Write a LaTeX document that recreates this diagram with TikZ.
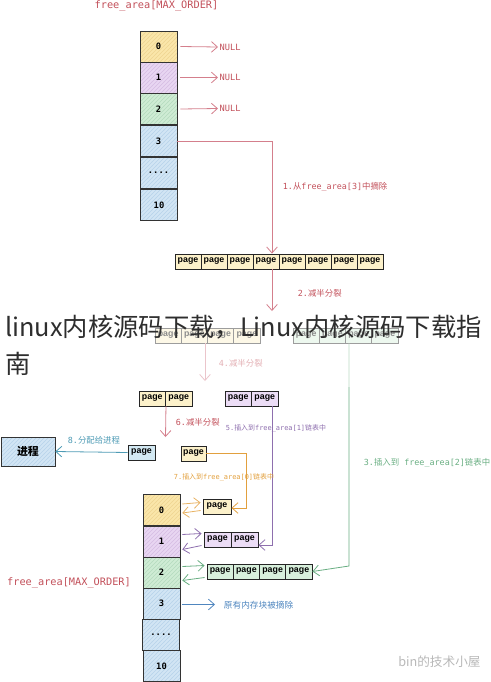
\documentclass[tikz,border=0pt]{standalone}
\usepackage{fontspec}
\setmainfont{Liberation Sans}
\setmonofont{DejaVu Sans Mono}
\newfontfamily\cjk{Noto Sans CJK SC}
\usetikzlibrary{arrows.meta,patterns,calc}
\newlength\pu \setlength\pu{0.75pt}
\newcommand\zh[1]{{\cjk #1}}
\definecolor{cRed}{HTML}{C2505A}
\definecolor{cRedL}{HTML}{D47F8C}
\definecolor{cYel}{HTML}{FAE6AA}
\definecolor{cYelH}{HTML}{EED491}
\definecolor{cPur}{HTML}{E8D6F2}
\definecolor{cPurH}{HTML}{D5BCE3}
\definecolor{cGrn}{HTML}{CFECD4}
\definecolor{cGrnH}{HTML}{B4DABD}
\definecolor{cBlu}{HTML}{D2E5F4}
\definecolor{cBluH}{HTML}{B6D2EA}
\definecolor{pgY}{HTML}{FCF1CA}
\definecolor{pgP}{HTML}{ECDDF6}
\definecolor{pgG}{HTML}{D8F0DC}
\definecolor{pgB}{HTML}{D3E9F3}
\definecolor{cPurL}{HTML}{8E6FAE}
\definecolor{cOra}{HTML}{E2A03E}
\definecolor{cGrnL}{HTML}{69AE82}
\definecolor{cTeal}{HTML}{4E9BB5}
\definecolor{cBlue}{HTML}{4F86BF}
\tikzset{
  slot/.style={inner sep=0pt,
    minimum width=37\pu, minimum height=31\pu,
    font=\ttfamily\bfseries\fontsize{6.6}{7}\selectfont},
  hatch/.style={postaction={pattern=north east lines, pattern color=#1},
    postaction={draw=black!80, line width=0.6pt}},
  pg/.style={draw=black!85, line width=0.7pt, inner sep=0pt,
    minimum height=15\pu, font=\bfseries\fontsize{6.6}{7}\selectfont},
  arr/.style={-{Straight Barb[length=4.5pt,width=8pt]}, line width=0.6pt},
  lab/.style={inner sep=0.5pt, anchor=west, font=\ttfamily\fontsize{6.3}{7}\selectfont},
  slab/.style={inner sep=0.5pt, anchor=west, font=\ttfamily\fontsize{5.2}{6}\selectfont},
  ttl/.style={inner sep=0pt, text=cRed, font=\ttfamily\fontsize{7.7}{8}\selectfont},
  nul/.style={inner sep=1pt, anchor=west, text=cRed, font=\ttfamily\fontsize{6.5}{7}\selectfont}
}
\begin{document}
\begin{tikzpicture}[x=\pu,y=-\pu]
\useasboundingbox (0,0) rectangle (490,682);
% ---------- top array ----------
\node[ttl] (t1) at (156.5,6) {free\_area[MAX\_ORDER]};
\node[slot, fill=cYel, hatch=cYelH] (a0) at (158.5,46.5) {0};
\node[slot, fill=cPur, hatch=cPurH] (a1) at (158.5,77.5) {1};
\node[slot, fill=cGrn, hatch=cGrnH] (a2) at (158.5,109) {2};
\node[slot, fill=cBlu, hatch=cBluH] (a3) at (158.5,141) {3};
\node[slot, fill=cBlu, hatch=cBluH] (a4) at (158.5,172.5) {....};
\node[slot, fill=cBlu, hatch=cBluH] (a5) at (159,205) {10};
\node[nul] (n0) at (218,47) {NULL};
\node[nul] (n1) at (218,77.5) {NULL};
\node[nul] (n2) at (218,108.5) {NULL};
\draw[arr, cRedL] ($(a0.east)+(3,0)$) -- (n0.west);
\draw[arr, cRedL] ($(a1.east)+(3,0)$) -- (n1.west);
\draw[arr, cRedL] ($(a2.east)+(3,0)$) -- (n2.west);
% ---------- big row ----------
\foreach \i in {1,...,8} {
  \node[pg, fill=pgY, minimum width=26\pu] (r\i) at ({175+26*\i-13},261.5) {page};
}
\coordinate (k1) at (272,141);
\draw[arr, cRedL] (a3.east) -- (k1) -- (k1 |- r4.north);
\node[lab, text=cRed] (l1) at (282,187) {1.\zh{从}free\_area[3]\zh{中摘除}};
\coordinate (k2) at (272,311);
\draw[arr, cRedL] (r4.south -| k2) -- (k2);
\node[lab, text=cRed] (l2) at (297,293) {2.\zh{减半分裂}};
% ---------- rows A and B ----------
\foreach \i in {1,...,4} {
  \node[pg, fill=pgY, minimum width=26.25\pu] (ra\i) at ({155+26.25*\i-13.125},335.5) {page};
  \node[pg, fill=pgG, minimum width=26.25\pu] (rb\i) at ({293+26.25*\i-13.125},335.5) {page};
}
\coordinate (k4) at (205,381);
\draw[arr, cRedL] (ra2.south -| k4) -- (k4);
\node[lab, text=cRed] (l4) at (218,363) {4.\zh{减半分裂}};
% green path 3
\foreach \i in {1,...,4} {
  \node[pg, fill=pgG, minimum width=26.25\pu] (g\i) at ({207+26.25*\i-13.125},571.5) {page};
}
\coordinate (k3) at (349,566);
\draw[arr, cGrnL] (rb3.south -| k3) -- (k3) -- (g4.east);
\node[lab, text=cGrnL] (l3) at (363,463) {3.\zh{插入到} free\_area[2]\zh{链表中}};
% ---------- pairs ----------
\node[pg, fill=pgY, minimum width=26.5\pu] (y1) at (152.25,398.5) {page};
\node[pg, fill=pgY, minimum width=26.5\pu] (y2) at (178.75,398.5) {page};
\node[pg, fill=pgP, minimum width=26.5\pu] (q1) at (238.25,398.5) {page};
\node[pg, fill=pgP, minimum width=26.5\pu] (q2) at (264.75,398.5) {page};
\coordinate (k6) at (165.5,437);
\draw[arr, cRedL] (y1.south east) -- (k6);
\node[lab, text=cRed] (l6) at (175,422) {6.\zh{减半分裂}};
% purple path 5
\node[pg, fill=pgP, minimum width=27\pu] (p1) at (217.5,539.5) {page};
\node[pg, fill=pgP, minimum width=27\pu] (p2) at (244.5,539.5) {page};
\coordinate (k5) at (272,545);
\draw[arr, cPurL] (q2.south -| k5) -- (k5) -- (p2.east |- k5);
\node[slab, text=cPurL] (l5) at (225,428) {5.\zh{插入到}free\_area[1]\zh{链表中}};
% ---------- single pages ----------
\node[pg, fill=pgB, minimum width=27\pu] (bp) at (141.5,452.5) {page};
\node[pg, fill=pgY, minimum width=25\pu] (ys) at (193.5,453.5) {page};
\node[fill=cBlu, hatch=cBluH, inner sep=0pt,
  minimum width=54\pu, minimum height=29\pu,
  font=\cjk\bfseries\fontsize{8.2}{9}\selectfont] (proc) at (28,451.5) {进程};
\draw[arr, cTeal] (bp.west) -- (proc.east);
\node[lab, text=cTeal] (l8) at (67,440) {8.\zh{分配给进程}};
% orange path 7
\node[pg, fill=pgY, minimum width=28\pu] (pz) at (217,506.5) {page};
\coordinate (k7) at (246,508);
\draw[arr, cOra] (ys.east) -- (ys.east -| k7) -- (k7) -- (pz.east |- k7);
\node[slab, text=cOra] (l7) at (173,477) {7.\zh{插入到}free\_area[0]\zh{链表中}};
% ---------- bottom array ----------
\node[ttl] (t2) at (69,583) {free\_area[MAX\_ORDER]};
\node[slot, fill=cYel, hatch=cYelH] (b0) at (161.5,510) {0};
\node[slot, fill=cPur, hatch=cPurH] (b1) at (161.5,541.5) {1};
\node[slot, fill=cGrn, hatch=cGrnH] (b2) at (161.5,572.5) {2};
\node[slot, fill=cBlu, hatch=cBluH] (b3) at (161.5,603.5) {3};
\node[slot, fill=cBlu, hatch=cBluH] (b4) at (161,634.5) {....};
\node[slot, fill=cBlu, hatch=cBluH] (b5) at (161.5,666) {10};
\draw[arr, cOra!80] ($(b0.east)+(2,-6)$) -- ($(pz.west)+(-2,-4)$);
\draw[arr, cOra!80] ($(pz.west)+(-2,4)$) -- ($(b0.east)+(2,3)$);
\draw[arr, cPurL] ($(b1.east)+(2,-7)$) -- ($(p1.west)+(-2,-6)$);
\draw[arr, cPurL] ($(p1.west)+(-2,6)$) -- ($(b1.east)+(2,8)$);
\draw[arr, cGrnL] ($(b2.east)+(2,-6)$) -- ($(g1.west)+(-2,-6)$);
\draw[arr, cGrnL] ($(g1.west)+(-2,6)$) -- ($(b2.east)+(2,8)$);
\coordinate (k8) at (215,604.5);
\draw[arr, cBlue] ($(b3.east)+(2,1)$) -- (k8);
\node[lab, text=cBlue, font=\cjk\fontsize{6.5}{7}\selectfont] (l9) at (223,605) {原有内存块被摘除};
% ---------- overlay caption ----------
\fill[white, opacity=0.55] (0,314) rectangle (490,387);
\node[anchor=base west, inner sep=0pt, text=black!82, font=\cjk\fontsize{19}{20}\selectfont] (cap1) at (5,336) {linux内核源码下载，Linux内核源码下载指};
\node[anchor=base west, inner sep=0pt, text=black!82, font=\cjk\fontsize{19}{20}\selectfont] (cap2) at (5,373) {南};
% watermark
\node[anchor=west, inner sep=0pt, text=black!28, font=\cjk\fontsize{9.5}{10}\selectfont] (wm) at (398,662) {bin的技术小屋};
\end{tikzpicture}
\end{document}
